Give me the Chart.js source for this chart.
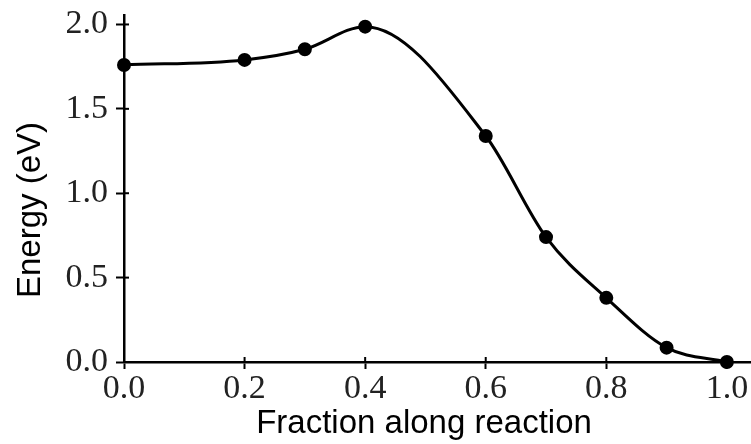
<!DOCTYPE html>
<html>
<head>
<meta charset="utf-8">
<script src="https://cdn.jsdelivr.net/npm/chart.js@4"></script>
<style>
  html, body { margin: 0; padding: 0; background: #fff; }
  #wrap { width: 751px; height: 444px; position: relative; }
</style>
</head>
<body>
<div id="wrap"><canvas id="energyChart"></canvas></div>
<script>
const fraction = [0.0, 0.2, 0.3, 0.4, 0.6, 0.7, 0.8, 0.9, 1.0];
const energy = [1.76, 1.79, 1.853, 1.987, 1.339, 0.74, 0.38, 0.085, 0.0];
const xTicks = [0.0, 0.2, 0.4, 0.6, 0.8, 1.0];
const yTicks = [0.0, 0.5, 1.0, 1.5, 2.0];
const xTitle = 'Fraction along reaction';
const yTitle = 'Energy (eV)';

const tickFont = { family: '"Liberation Serif", serif', size: 34 };
const titleFont = '33px "Liberation Sans", sans-serif';

// ticks in matplotlib cross the spine, chart.js only draws the outer half
const innerTicks = {
  id: 'innerTicks',
  afterDraw(chart) {
    const { ctx, scales: { x, y } } = chart;
    ctx.save();
    ctx.strokeStyle = '#000';
    ctx.lineWidth = 2;
    x.ticks.forEach(t => {
      const px = x.getPixelForValue(t.value);
      ctx.beginPath();
      ctx.moveTo(px, y.bottom);
      ctx.lineTo(px, y.bottom - 5);
      ctx.stroke();
    });
    y.ticks.forEach(t => {
      const py = y.getPixelForValue(t.value);
      ctx.beginPath();
      ctx.moveTo(x.left, py);
      ctx.lineTo(x.left + 5, py);
      ctx.stroke();
    });
    ctx.restore();
  }
};

const axisTitles = {
  id: 'axisTitles',
  afterDraw(chart) {
    const { ctx } = chart;
    ctx.save();
    ctx.fillStyle = '#000';
    ctx.font = titleFont;
    ctx.textAlign = 'center';
    ctx.textBaseline = 'alphabetic';
    ctx.fillText(xTitle, 424, 433);
    ctx.translate(40, 210);
    ctx.rotate(-Math.PI / 2);
    ctx.fillText(yTitle, 0, 0);
    ctx.restore();
  }
};

new Chart(document.getElementById('energyChart'), {
  type: 'line',
  data: {
    datasets: [{
      data: fraction.map((f, i) => ({ x: f, y: energy[i] })),
      borderColor: '#000',
      backgroundColor: '#000',
      borderWidth: 3,
      pointRadius: 5.5,
      pointHoverRadius: 5.5,
      cubicInterpolationMode: 'monotone',
      clip: false
    }]
  },
  options: {
    responsive: true,
    maintainAspectRatio: false,
    animation: false,
    layout: { autoPadding: false, padding: { top: 15, right: 0, left: 0, bottom: 0 } },
    plugins: { legend: { display: false }, tooltip: { enabled: false } },
    scales: {
      x: {
        type: 'linear',
        min: 0,
        max: 1.04,
        afterBuildTicks: s => { s.ticks = xTicks.map(v => ({ value: v })); },
        afterFit: s => { s.height = 82; s.paddingLeft = 0; s.paddingRight = 0; },
        grid: { drawOnChartArea: false, tickLength: 7, tickWidth: 2, color: '#000' },
        border: { display: true, color: '#000', width: 2.5 },
        ticks: { color: '#222', font: tickFont, padding: 0, maxRotation: 0, autoSkip: false, callback: v => v.toFixed(1) }
      },
      y: {
        type: 'linear',
        min: 0,
        max: 2.056,
        afterBuildTicks: s => { s.ticks = yTicks.map(v => ({ value: v })); },
        afterFit: s => { s.width = 124; s.paddingTop = 0; s.paddingBottom = 0; },
        grid: { drawOnChartArea: false, tickLength: 8, tickWidth: 2, color: '#000' },
        border: { display: true, color: '#000', width: 2.5 },
        ticks: { color: '#222', font: tickFont, padding: 8, autoSkip: false, callback: v => v.toFixed(1) }
      }
    }
  },
  plugins: [innerTicks, axisTitles]
});
</script>
</body>
</html>
